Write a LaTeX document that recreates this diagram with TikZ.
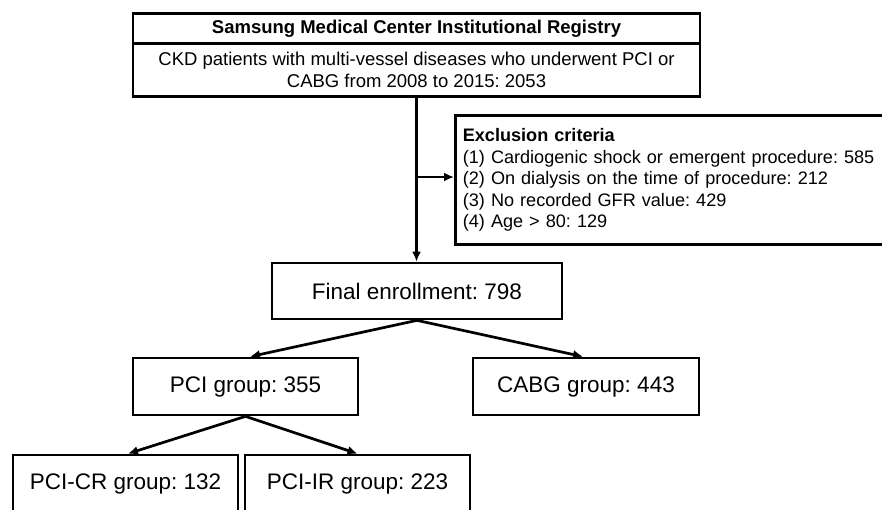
\documentclass[tikz,border=0pt]{standalone}
\usepackage{fontspec}
\setmainfont{Liberation Sans}
\usetikzlibrary{arrows.meta}
\AtBeginDocument{\frenchspacing}
\begin{document}
\begin{tikzpicture}[x=1pt,y=-1pt,
  box/.style={draw, line width=2.7pt, inner sep=0pt, align=center},
  smalltxt/.style={font=\frenchspacing\fontsize{18.5pt}{21.5pt}\selectfont},
  excltxt/.style={font=\frenchspacing\fontsize{18.1pt}{21.5pt}\selectfont},
  bigtxt/.style={font=\frenchspacing\fontsize{22.5pt}{26pt}\selectfont},
  arr/.style={line width=2.7pt, -{Latex[length=10pt,width=9pt]}},
]
\useasboundingbox (0,0) rectangle (882,509);
\node[box, smalltxt, minimum width=567pt, minimum height=30pt, anchor=north] (reg) at (416.5,12) {\bfseries Samsung Medical Center Institutional Registry};
\node[box, smalltxt, minimum width=567pt, minimum height=53pt, anchor=north] (ckd) at (416.5,42) {CKD patients with multi-vessel diseases who underwent PCI or\\CABG from 2008 to 2015: 2053};
\node[box, excltxt, anchor=north west, minimum height=129pt, text width=429pt, inner xsep=7.5pt, inner ysep=0pt, align=left] (excl) at (454,114) {\textbf{Exclusion criteria}\\(1) Cardiogenic shock or emergent procedure: 585\\(2) On dialysis on the time of procedure: 212\\(3) No recorded GFR value: 429\\(4) Age > 80: 129};
\node[box, bigtxt, minimum width=290pt, minimum height=56pt] (final) at (417,291) {Final enrollment: 798};
\node[box, bigtxt, minimum width=225pt, minimum height=57pt] (pci) at (245.5,386.5) {PCI group: 355};
\node[box, bigtxt, minimum width=226pt, minimum height=57pt] (cabg) at (586,386.5) {CABG group: 443};
\node[box, bigtxt, minimum width=225pt, minimum height=58pt] (pcicr) at (125.5,484) {PCI-CR group: 132};
\node[box, bigtxt, minimum width=225pt, minimum height=58pt] (pciir) at (357.5,484) {PCI-IR group: 223};
\coordinate (branch) at (416.5,177);
\draw[arr] (ckd.south) -- (ckd.south |- final.north);
\draw[arr] (branch) -- (branch -| excl.west);
\draw[arr] (final.south) -- ([xshift=4.5pt]pci.north);
\draw[arr] (final.south) -- ([xshift=-3pt]cabg.north);
\draw[arr] (pci.south) -- ([xshift=2.5pt]pcicr.north);
\draw[arr] (pci.south) -- (pciir.north);
\end{tikzpicture}
\end{document}
